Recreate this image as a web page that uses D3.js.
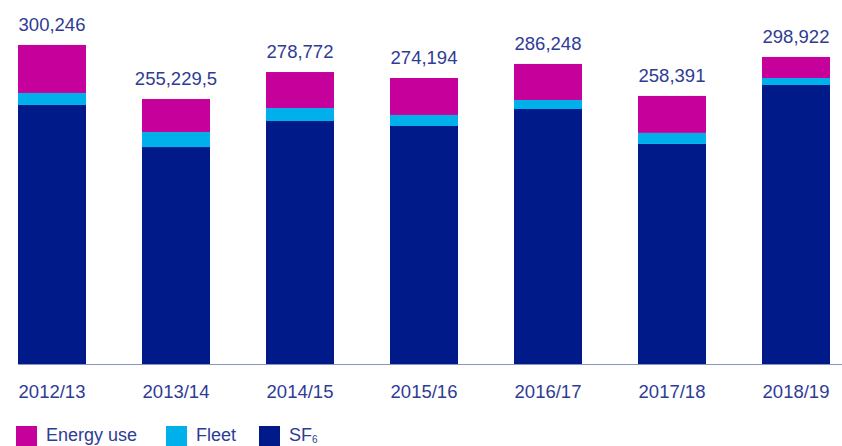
<!DOCTYPE html>
<html>
<head>
<meta charset="utf-8">
<script src="https://cdn.jsdelivr.net/npm/d3@7"></script>
<style>
  html, body { margin: 0; padding: 0; background: #fff; }
  svg { display: block; }
  text { font-family: "Liberation Sans", Arial, Helvetica, sans-serif; }
</style>
</head>
<body>
<svg id="chart" width="842" height="446"></svg>
<script>
// ---- data ----
const categories = ["2012/13", "2013/14", "2014/15", "2015/16", "2016/17", "2017/18", "2018/19"];
const sf6 = [243800, 204200, 228700, 224000, 240000, 207100, 262600];
const fleet = [11300, 14100, 12200, 10400, 8500, 10400, 6600];
const energyUse = [45200, 31100, 33900, 34800, 33900, 34800, 19800];
const totalLabels = ["300,246", "255,229,5", "278,772", "274,194", "286,248", "258,391", "298,922"];
const seriesNames = ["SF6", "Fleet", "Energy use"];

const colors = { "SF6": "#001a89", "Fleet": "#00b0eb", "Energy use": "#c6009a" };
const textColor = "#2e3c94";

const svg = d3.select("#chart");
const baseY = 364;

const x = d3.scaleBand().domain(categories).range([18, 830]).paddingInner(0.4516).paddingOuter(0);
const y = d3.scaleLinear().domain([0, 300246]).range([baseY, 45]);

const rows = categories.map((c, i) => ({ cat: c, "SF6": sf6[i], "Fleet": fleet[i], "Energy use": energyUse[i] }));
const stack = d3.stack().keys(seriesNames)(rows);

svg.append("g").selectAll("g").data(stack).join("g")
  .attr("fill", d => colors[d.key])
  .selectAll("rect").data(d => d).join("rect")
  .attr("x", d => x(d.data.cat))
  .attr("width", x.bandwidth())
  .attr("y", d => y(d[1]))
  .attr("height", d => y(d[0]) - y(d[1]));

// baseline axis
const xAxis = d3.axisBottom(x).tickSize(0).tickPadding(0);
const ax = svg.append("g").attr("transform", `translate(0,${baseY})`).call(xAxis);
ax.select(".domain").attr("d", `M18,0.5H842`).attr("stroke", "#8a92c8").attr("stroke-width", 1.2);
ax.selectAll(".tick text")
  .attr("y", 34).attr("dy", null)
  .attr("fill", textColor)
  .style("font-size", "18.5px")
  .style("font-family", "'Liberation Sans', Arial, sans-serif");

// total labels
const totals = rows.map(r => r["SF6"] + r["Fleet"] + r["Energy use"]);
svg.append("g").selectAll("text").data(categories).join("text")
  .attr("x", d => x(d) + x.bandwidth() / 2)
  .attr("y", (d, i) => y(totals[i]) - 14)
  .attr("text-anchor", "middle")
  .attr("fill", textColor)
  .style("font-size", "18.5px")
  .text((d, i) => totalLabels[i]);

// legend
const legendItems = [
  { key: "Energy use", x: 16 },
  { key: "Fleet", x: 166 },
  { key: "SF6", x: 259 }
];
const lg = svg.append("g");
legendItems.forEach(it => {
  lg.append("rect").attr("x", it.x).attr("y", 426).attr("width", 21).attr("height", 21).attr("fill", colors[it.key]);
  const t = lg.append("text").attr("x", it.x + 30).attr("y", 441).attr("fill", textColor).style("font-size", "18px");
  if (it.key === "SF6") {
    t.append("tspan").text("SF");
    t.append("tspan").text("6").attr("dy", 2).style("font-size", "10px");
  } else {
    t.text(it.key);
  }
});
</script>
</body>
</html>
